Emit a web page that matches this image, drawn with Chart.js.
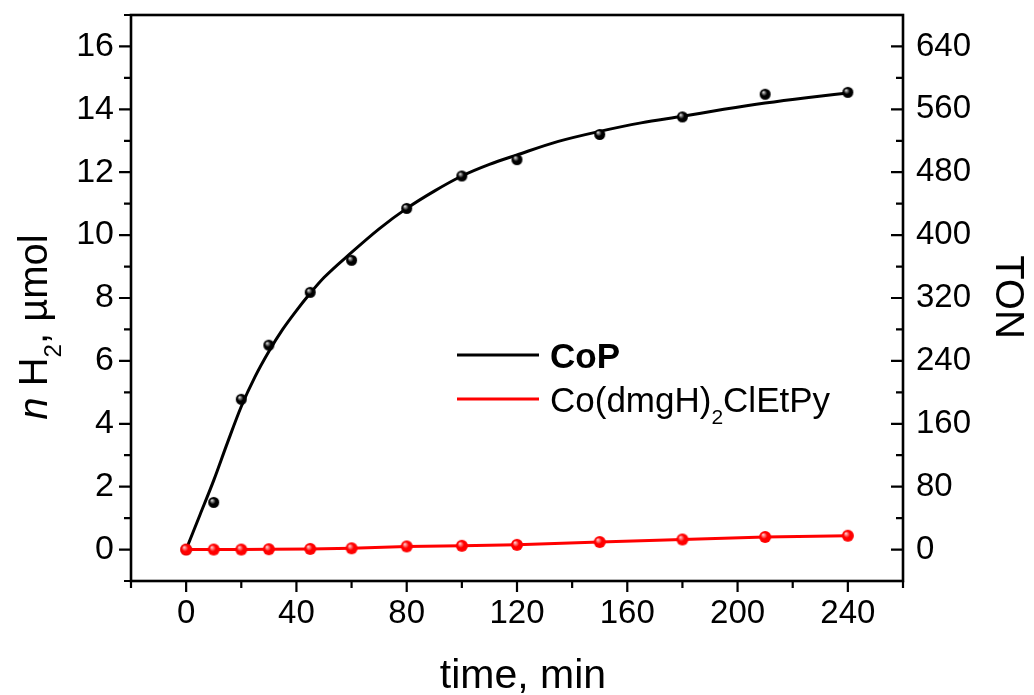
<!DOCTYPE html>
<html>
<head>
<meta charset="utf-8">
<script src="https://cdn.jsdelivr.net/npm/chart.js@4.4.1/dist/chart.umd.min.js"></script>
<style>
  html, body { margin: 0; padding: 0; background: #fff; }
  #wrap { width: 1034px; height: 695px; }
</style>
</head>
<body>
<div id="wrap"><canvas id="chart" width="1034" height="695"></canvas></div>
<script>
// sampling times, min
const times = [0, 10, 20, 30, 45, 60, 80, 100, 120, 150, 180, 210, 240];
// H2 evolved, µmol
const copValues = [0, 1.5, 4.78, 6.5, 8.18, 9.2, 10.85, 11.88, 12.4, 13.2, 13.76, 14.48, 14.54];
const cobaloximeValues = [0, 0, 0, 0.01, 0.02, 0.04, 0.1, 0.12, 0.15, 0.24, 0.32, 0.4, 0.44];

// fitted kinetic curve for CoP
const fitTimes = [0, 5, 10, 15, 20, 25, 30, 35, 40, 45, 50, 60, 70, 80, 90, 100, 110, 120, 135, 150, 165, 180, 195, 210, 225, 240];
const fitValues = [0, 1.1, 2.2, 3.4, 4.55, 5.5, 6.3, 7.0, 7.6, 8.15, 8.65, 9.45, 10.2, 10.85, 11.4, 11.88, 12.25, 12.55, 12.98, 13.3, 13.57, 13.78, 14.0, 14.2, 14.37, 14.52];

const seriesNames = ['CoP', 'Co(dmgH)2ClEtPy'];

// axis ticks
const xTicks = [0, 40, 80, 120, 160, 200, 240];
const xMinor = [-20, 20, 60, 100, 140, 180, 220, 260];
const yTicks = [0, 2, 4, 6, 8, 10, 12, 14, 16];
const yMinor = [-1, 1, 3, 5, 7, 9, 11, 13, 15, 17];
const tonTicks = [0, 80, 160, 240, 320, 400, 480, 560, 640];
const tonMinor = [-40, 40, 120, 200, 280, 360, 440, 520, 600, 680];

const FONT = '"Liberation Sans", Arial, Helvetica, sans-serif';

function pts(xs, ys) {
  return xs.map((x, i) => ({ x: x, y: ys[i] }));
}

// small shaded sphere used as marker
function ball(base, light, r) {
  const s = Math.ceil(r * 2 + 2);
  const c = document.createElement('canvas');
  c.width = c.height = s;
  const g = c.getContext('2d');
  const grad = g.createRadialGradient(s / 2 - r * 0.35, s / 2 - r * 0.4, r * 0.05, s / 2, s / 2, r);
  grad.addColorStop(0, light);
  grad.addColorStop(0.5, base);
  grad.addColorStop(1, base);
  g.fillStyle = grad;
  g.beginPath();
  g.arc(s / 2, s / 2, r, 0, Math.PI * 2);
  g.fill();
  return c;
}

// text with italic / bold / subscript runs
function runFont(p, size) {
  const fs = p.sub ? size * 0.6 : size;
  return (p.italic ? 'italic ' : '') + (p.bold ? 'bold ' : '') + fs + 'px ' + FONT;
}
function richWidth(ctx, parts, size) {
  let w = 0;
  for (const p of parts) { ctx.font = runFont(p, size); w += ctx.measureText(p.text).width; }
  return w;
}
function drawRich(ctx, parts, x, y, size) {
  let cx = x;
  ctx.textAlign = 'left';
  ctx.textBaseline = 'alphabetic';
  for (const p of parts) {
    ctx.font = runFont(p, size);
    ctx.fillText(p.text, cx, y + (p.sub ? size * 0.35 : 0));
    cx += ctx.measureText(p.text).width;
  }
}
// split a formula so digits after a closing bracket or a letter become subscripts
function formulaParts(str, bold) {
  const parts = [];
  const re = /([A-Za-z\)])(\d+)/g;
  let last = 0, m;
  while ((m = re.exec(str)) !== null) {
    parts.push({ text: str.slice(last, m.index + 1), bold: bold });
    parts.push({ text: m[2], sub: true, bold: bold });
    last = m.index + 1 + m[2].length;
  }
  parts.push({ text: str.slice(last), bold: bold });
  return parts.filter(p => p.text.length);
}

const decor = {
  id: 'decor',
  afterDraw(chart) {
    const { ctx, chartArea: a, scales } = chart;
    ctx.save();
    ctx.strokeStyle = '#000';
    ctx.fillStyle = '#000';

    // frame
    ctx.lineWidth = 2.6;
    ctx.strokeRect(a.left, a.top, a.right - a.left, a.bottom - a.top);

    // tick marks
    ctx.lineWidth = 2.2;
    ctx.beginPath();
    const seg = (x1, y1, x2, y2) => { ctx.moveTo(x1, y1); ctx.lineTo(x2, y2); };
    xTicks.forEach(v => { const p = scales.x.getPixelForValue(v); seg(p, a.bottom, p, a.bottom + 11); });
    xMinor.forEach(v => { const p = scales.x.getPixelForValue(v); seg(p, a.bottom, p, a.bottom + 7); });
    yTicks.forEach(v => { const p = scales.y.getPixelForValue(v); seg(a.left, p, a.left - 12, p); });
    yMinor.forEach(v => { const p = scales.y.getPixelForValue(v); seg(a.left, p, a.left - 7, p); });
    tonTicks.forEach(v => { const p = scales.y1.getPixelForValue(v); seg(a.right, p, a.right - 12, p); });
    tonMinor.forEach(v => { const p = scales.y1.getPixelForValue(v); seg(a.right, p, a.right - 7, p); });
    ctx.stroke();

    // x title
    ctx.font = '41px ' + FONT;
    ctx.textAlign = 'center';
    ctx.textBaseline = 'alphabetic';
    ctx.fillText('time, min', (a.left + a.right) / 2 + 6, 688);

    // left title
    const yTitle = [{ text: 'n', italic: true }, { text: ' H' }, { text: '2', sub: true }, { text: ', µmol' }];
    ctx.save();
    ctx.translate(47, 327);
    ctx.rotate(-Math.PI / 2);
    drawRich(ctx, yTitle, -richWidth(ctx, yTitle, 40) / 2, 0, 40);
    ctx.restore();

    // right title
    ctx.save();
    ctx.translate(996, 297);
    ctx.rotate(Math.PI / 2);
    ctx.font = '40px ' + FONT;
    ctx.textAlign = 'center';
    ctx.textBaseline = 'alphabetic';
    ctx.fillText('TON', 0, 0);
    ctx.restore();

    // legend
    const rows = [
      { parts: formulaParts(chart.data.datasets[1].label, true), color: '#000', y: 355 },
      { parts: formulaParts(chart.data.datasets[0].label, false), color: '#ff0000', y: 399 }
    ];
    rows.forEach(r => {
      ctx.strokeStyle = r.color;
      ctx.lineWidth = 3;
      ctx.beginPath();
      ctx.moveTo(457, r.y);
      ctx.lineTo(539, r.y);
      ctx.stroke();
      ctx.fillStyle = '#000';
      drawRich(ctx, r.parts, 550, r.y + 13, 35);
    });
    ctx.restore();
  }
};

// fixed box sizes so the plot area sits where the axes belong
function fixBox(size) {
  return s => {
    if (s.isHorizontal()) s.height = size; else s.width = size;
    s.paddingTop = 0;
    s.paddingBottom = 0;
    s.paddingLeft = 0;
    s.paddingRight = 0;
  };
}

const tickFont = { family: FONT, size: 33 };

new Chart(document.getElementById('chart'), {
  type: 'scatter',
  data: {
    datasets: [
      {
        label: seriesNames[1],
        data: pts(times, cobaloximeValues),
        showLine: true,
        borderColor: '#ff0000',
        borderWidth: 3,
        tension: 0,
        pointStyle: ball('#ff0000', '#ffd0d0', 6),
        pointRadius: 6,
        yAxisID: 'y'
      },
      {
        label: seriesNames[0],
        data: pts(times, copValues),
        showLine: false,
        pointStyle: ball('#000000', '#e0e0e0', 5.5),
        pointRadius: 6,
        yAxisID: 'y'
      },
      {
        label: 'CoP fit',
        data: pts(fitTimes, fitValues),
        showLine: true,
        borderColor: '#000000',
        borderWidth: 3,
        pointRadius: 0,
        cubicInterpolationMode: 'monotone',
        yAxisID: 'y'
      }
    ]
  },
  options: {
    animation: false,
    responsive: false,
    devicePixelRatio: 1,
    events: [],
    layout: { padding: { top: 15, left: 0, right: 0, bottom: 0 } },
    plugins: {
      legend: { display: false },
      tooltip: { enabled: false }
    },
    scales: {
      x: {
        type: 'linear',
        position: 'bottom',
        min: -20,
        max: 260,
        grid: { display: false, drawTicks: false },
        border: { display: false },
        afterBuildTicks: s => { s.ticks = xTicks.map(v => ({ value: v })); },
        afterFit: fixBox(114),
        ticks: { font: tickFont, color: '#000', padding: 13, maxRotation: 0, autoSkip: false }
      },
      y: {
        type: 'linear',
        position: 'left',
        min: -1,
        max: 17,
        grid: { display: false, drawTicks: false },
        border: { display: false },
        afterBuildTicks: s => { s.ticks = yTicks.map(v => ({ value: v })); },
        afterFit: fixBox(131),
        ticks: { font: { family: FONT, size: 34 }, color: '#000', padding: 17, autoSkip: false }
      },
      y1: {
        type: 'linear',
        position: 'right',
        min: -40,
        max: 680,
        grid: { display: false, drawTicks: false },
        border: { display: false },
        afterBuildTicks: s => { s.ticks = tonTicks.map(v => ({ value: v })); },
        afterFit: fixBox(131),
        ticks: { font: tickFont, color: '#000', padding: 13, autoSkip: false }
      }
    }
  },
  plugins: [decor]
});
</script>
</body>
</html>
